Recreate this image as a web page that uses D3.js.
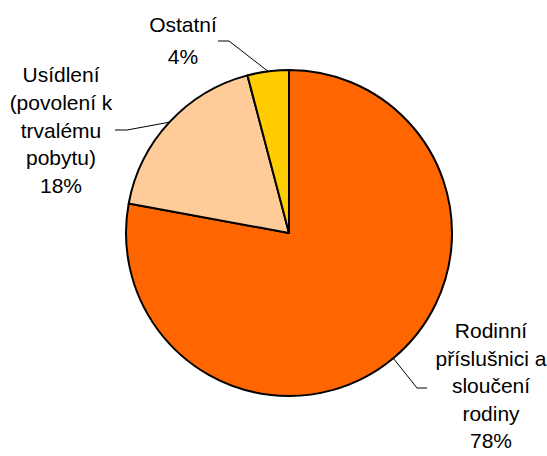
<!DOCTYPE html>
<html>
<head>
<meta charset="utf-8">
<script src="https://cdn.jsdelivr.net/npm/d3@7"></script>
<style>
  body { margin: 0; background: white; }
  text { font-family: "Liberation Sans", Arial, sans-serif; font-size: 21px; fill: #000; }
</style>
</head>
<body>
<script>
var categories = ["Rodinní příslušníci a sloučení rodiny", "Usídlení (povolení k trvalému pobytu)", "Ostatní"]
var values = [77.9, 18.0, 4.1]
var percentLabels = ["78%", "18%", "4%"]
var labelLines = [
    ["Rodinní", "příslušnici a", "sloučení", "rodiny"],
    ["Usídlení", "(povolení k", "trvalému", "pobytu)"],
    ["Ostatní"]
]
var colors = ["#FF6600", "#FFCC99", "#FFCC00"]

var width = 547
var height = 456
var cx = 289, cy = 233, radius = 163

// where each label block sits (text centre x, first baseline y, line step) and the leader elbow
var labelLayout = [
    { x: 491, y: 338, step: 27.5, elbow: [417, 388], end: [427, 388] },
    { x: 61, y: 82, step: 27.8, elbow: [127, 130], end: [115, 130] },
    { x: 183, y: 32, step: 31.5, elbow: [229, 41], end: [218, 41] }
]

var svg = d3.select("body")
    .append("svg")
    .attr("width", width)
    .attr("height", height)

var g = svg.append("g")
    .attr("transform", "translate(" + cx + "," + cy + ")")

var pie = d3.pie().sort(null).value(function (d) { return d })
var arc = d3.arc().innerRadius(0).outerRadius(radius)
var arcs = pie(values)

g.selectAll(".slice")
    .data(arcs)
    .enter()
    .append("path")
    .attr("class", "slice")
    .attr("d", arc)
    .attr("fill", function (d, i) { return colors[i] })
    .attr("stroke", "#000")
    .attr("stroke-width", 2)
    .attr("stroke-linejoin", "round")

// leader lines
g.selectAll(".leader")
    .data(arcs)
    .enter()
    .append("polyline")
    .attr("class", "leader")
    .attr("fill", "none")
    .attr("stroke", "#000")
    .attr("stroke-width", 1)
    .attr("points", function (d, i) {
        var a = (d.startAngle + d.endAngle) / 2
        var p0 = [Math.sin(a) * radius, -Math.cos(a) * radius]
        var L = labelLayout[i]
        var p1 = [L.elbow[0] - cx, L.elbow[1] - cy]
        var p2 = [L.end[0] - cx, L.end[1] - cy]
        return [p0, p1, p2].map(function (p) { return p.join(",") }).join(" ")
    })

// labels
var labels = svg.selectAll(".label")
    .data(arcs)
    .enter()
    .append("text")
    .attr("class", "label")
    .attr("text-anchor", "middle")

labels.each(function (d, i) {
    var t = d3.select(this)
    var L = labelLayout[i]
    var lines = labelLines[i].concat([percentLabels[i]])
    lines.forEach(function (s, j) {
        t.append("tspan")
            .attr("x", L.x)
            .attr("y", L.y + j * L.step)
            .text(s)
    })
})
</script>
</body>
</html>
